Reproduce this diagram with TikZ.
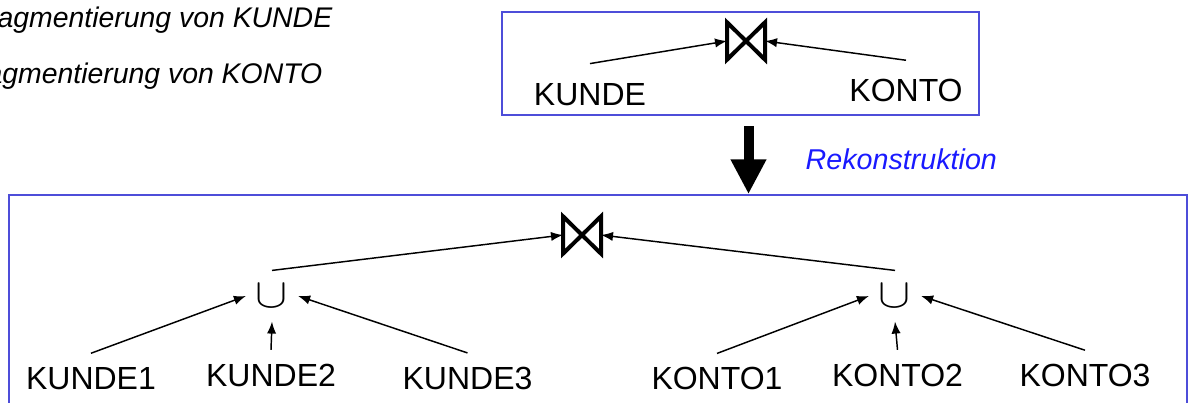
\documentclass[tikz,border=0pt]{standalone}
\usepackage{fontspec}
\setmainfont{Liberation Sans}
\usetikzlibrary{arrows.meta,fit}

\definecolor{framecol}{RGB}{77,77,217}
\definecolor{labelcol}{RGB}{26,26,255}

\tikzset{
  frame/.style={draw=framecol, line width=1.3pt, inner sep=0pt},
  relname/.style={font=\fontsize{24}{28}\selectfont, anchor=base, inner xsep=0pt, inner ysep=9.75pt},
  note/.style={font=\fontsize{21.3}{25}\selectfont\itshape, anchor=base east, inner sep=0pt},
  joinsym/.style={minimum width=28.5pt, minimum height=28pt, inner sep=0pt, outer sep=0pt},
  bowtie/.style={line width=3pt, line join=miter, miter limit=3},
  unionsym/.style={font=\fontsize{24.88}{30}\selectfont, inner xsep=7pt, inner ysep=10pt},
  bigarrow/.style={line width=7.5pt, -{Triangle[length=26pt,width=25pt]}}
}

\begin{document}
\begin{tikzpicture}[x=7.5pt, y=-7.5pt, >={Latex[length=9pt,width=7pt]}, line width=1.1pt]
      \useasboundingbox (0,0) rectangle (119.2,40.3);

      \node[note] (FK1) at (33.3,2.8) {Fragmentierung von KUNDE};
      \node[note] (FK2) at (32.3,8.4) {Fragmentierung von KONTO};

      \node[frame, fit={(50.2,1.2) (97.9,11.5)}] (G) {};
      \node[joinsym] (J0) at (74.6,4.1) {};
      \node[relname, inner ysep=14pt] (KU0) at (59.0,10.5) {KUNDE};
      \node[relname, inner ysep=14pt] (KO0) at (90.6,10.2) {KONTO};

      \coordinate (RK) at (74.85,12.6);
      \node[anchor=base west, inner sep=0pt, text=labelcol,
            font=\fontsize{21.5}{25}\selectfont\itshape] (RT) at (80.5,16.9) {Rekonstruktion};

      \node[frame, fit={(0.9,19.5) (118.7,42.0)}] (F) {};
      \node[joinsym] (J1) at (58.2,23.5) {};
      \node[unionsym] (U1) at (27.2,29.6) {\scalebox{1.45}[1.25]{$\cup$}};
      \node[unionsym] (U2) at (89.5,29.6) {\scalebox{1.45}[1.25]{$\cup$}};

      \node[relname] (KU1) at (9.1,38.9) {KUNDE1};
      \node[relname] (KU2) at (27.1,38.6) {KUNDE2};
      \node[relname] (KU3) at (46.75,38.9) {KUNDE3};
      \node[relname] (KO1) at (71.7,38.95) {KONTO1};
      \node[relname] (KO2) at (89.75,38.6) {KONTO2};
      \node[relname] (KO3) at (108.5,38.63) {KONTO3};

      \draw [bowtie] (J0.north west) -- (J0.south east) -- (J0.north east) -- (J0.south west) -- cycle;
      \draw [bowtie] (J1.north west) -- (J1.south east) -- (J1.north east) -- (J1.south west) -- cycle;
      \draw [bigarrow] (RK) -- (RK |- F.north);

      \draw [<-] (J0.west)   to (KU0.north);
      \draw [<-] (J0.east)   to (KO0.north);
      \draw [<-] (J1.west)   to (U1.north);
      \draw [<-] (J1.east)   to (U2.north);
      \draw [<-] (U1.west)   to (KU1.north);
      \draw [<-] (U1.south)  to (KU2.north);
      \draw [<-] (U1.east)   to (KU3.north);
      \draw [<-] (U2.west)   to (KO1.north);
      \draw [<-] (U2.south)  to (KO2.north);
      \draw [<-] (U2.east)   to (KO3.north);
\end{tikzpicture}
\end{document}
